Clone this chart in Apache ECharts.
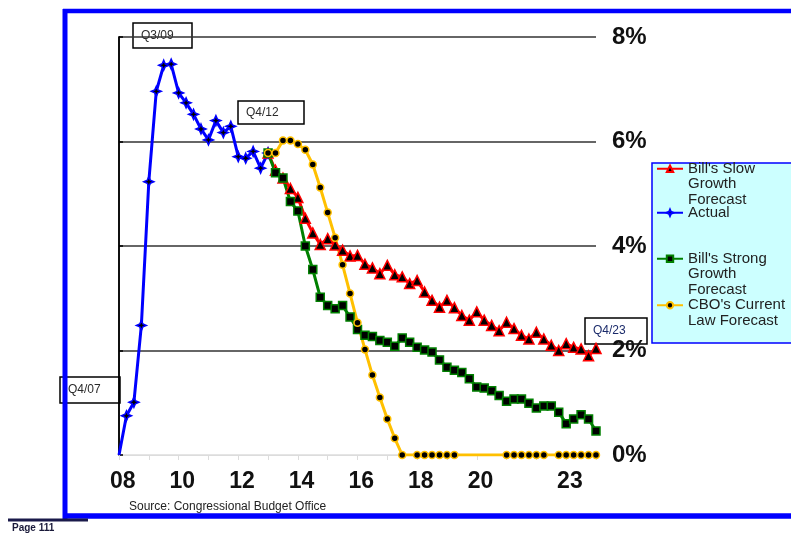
<!DOCTYPE html>
<html>
<head>
<meta charset="utf-8">
<script src="https://cdn.jsdelivr.net/npm/echarts@6/dist/echarts.min.js"></script>
<style>
  html, body { margin: 0; padding: 0; background: #fff; }
  #chart { width: 791px; height: 540px; }
</style>
</head>
<body>
<div id="chart"></div>
<script>
// Quarter slots are counted from Q4/2007 (slot 0) to Q4/2023 (slot 64).
const actualStart = 0;
const actual = [0.00, 0.75, 1.01, 2.48, 5.23, 6.96, 7.46, 7.48, 6.93, 6.74, 6.52,
                6.24, 6.03, 6.40, 6.17, 6.29, 5.71, 5.68, 5.81, 5.49, 5.78];
// The starting quarter of the actual line has no marker.
const actualPlainSlots = [0];

// All three forecasts start at Q4/2012 (slot 20).
const forecastStart = 20;
const slowGrowth = [5.78, 5.45, 5.30, 5.10, 4.93, 4.53, 4.25, 4.03, 4.14, 4.02,
                    3.92, 3.81, 3.82, 3.65, 3.58, 3.47, 3.63, 3.45, 3.41, 3.28,
                    3.34, 3.12, 2.96, 2.83, 2.96, 2.82, 2.67, 2.58, 2.74, 2.58,
                    2.48, 2.38, 2.54, 2.42, 2.29, 2.22, 2.35, 2.22, 2.10, 2.00,
                    2.13, 2.06, 2.03, 1.90, 2.04];
const strongGrowth = [5.78, 5.40, 5.30, 4.85, 4.67, 4.00, 3.55, 3.02, 2.86, 2.80,
                      2.86, 2.64, 2.40, 2.29, 2.27, 2.19, 2.16, 2.08, 2.24, 2.16,
                      2.06, 2.01, 1.97, 1.82, 1.68, 1.62, 1.58, 1.46, 1.30, 1.28,
                      1.23, 1.14, 1.03, 1.07, 1.07, 0.99, 0.90, 0.94, 0.94, 0.82,
                      0.60, 0.69, 0.77, 0.69, 0.46];
const cboForecast = [5.78, 5.78, 6.02, 6.02, 5.95, 5.84, 5.56, 5.12, 4.64, 4.16,
                     3.64, 3.09, 2.53, 2.02, 1.53, 1.10, 0.69, 0.32, 0.00, 0.00,
                     0.00, 0.00, 0.00, 0.00, 0.00, 0.00, 0.00, 0.00, 0.00, 0.00,
                     0.00, 0.00, 0.00, 0.00, 0.00, 0.00, 0.00, 0.00, 0.00, 0.00,
                     0.00, 0.00, 0.00, 0.00, 0.00];
// Quarters of the CBO line that carry no marker.
const cboPlainSlots = [39, 46, 47, 48, 49, 50, 51, 58];

// Year labels and the quarter slot each one sits over.
const yearLabels = ['08', '10', '12', '14', '16', '18', '20', '23'];
const yearLabelSlots = [0, 8, 16, 24, 32, 40, 48, 60];
const slotCount = 64;

const seriesNames = ["Bill's Slow Growth Forecast", 'Actual',
                     "Bill's Strong Growth Forecast", "CBO's Current Law Forecast"];
const yTicks = [0, 2, 4, 6, 8];

const FONT = '"Liberation Sans", Arial, sans-serif';
// four-pointed star used for the actual readings
const STAR4 = 'path://M0,-10 L3,-3 L10,0 L3,3 L0,10 L-3,3 L-10,0 L-3,-3 Z';

const slotLabels = new Array(slotCount).fill('');
yearLabelSlots.forEach((s, i) => { slotLabels[s] = yearLabels[i]; });

function toPoints(start, values, plain) {
  return values.map((v, i) => {
    const slot = start + i;
    if (plain && plain.indexOf(slot) >= 0) {
      return { value: [slot, v], symbolSize: 0 };
    }
    return [slot, v];
  });
}

function lineSeries(name, start, values, color, symbol, size, plain) {
  return {
    name: name,
    type: 'line',
    xAxisIndex: 0,
    yAxisIndex: 0,
    data: toPoints(start, values, plain),
    symbol: symbol,
    symbolSize: size,
    showAllSymbol: true,
    lineStyle: { color: color, width: 3 },
    itemStyle: { color: '#000', borderColor: color, borderWidth: 1.5 },
    emphasis: { disabled: true },
    z: 3
  };
}

function legendEntry(name, text, top) {
  return {
    data: [name],
    left: 656,
    top: top,
    padding: 0,
    itemWidth: 26,
    itemHeight: 8,
    selectedMode: false,
    formatter: () => text,
    textStyle: { fontFamily: FONT, fontSize: 15, lineHeight: 15.5, color: '#222' }
  };
}

function noteBox(x, y, w, h, label, fill, color) {
  return {
    type: 'group',
    z: 20,
    children: [
      { type: 'rect', shape: { x: x, y: y, width: w, height: h },
        style: { fill: fill, stroke: '#000', lineWidth: 1.5 } },
      { type: 'text', x: x + 8, y: y + h / 2,
        style: { text: label, fontFamily: FONT, fontSize: 12, fill: color,
                 verticalAlign: 'middle' } }
    ]
  };
}

const chart = echarts.init(document.getElementById('chart'), null, { renderer: 'canvas' });

chart.setOption({
  animation: false,
  backgroundColor: '#fff',
  grid: { left: 119, right: 195, top: 37, bottom: 85, containLabel: false },
  title: [
    { text: 'Source: Congressional Budget Office', left: 129, top: 501, padding: 0,
      textStyle: { fontFamily: FONT, fontSize: 12, fontWeight: 'normal', color: '#222' } },
    { text: 'Page 111', left: 12, top: 523, padding: 0,
      textStyle: { fontFamily: FONT, fontSize: 10, fontWeight: 'bold', color: '#1a1a3a' } }
  ],
  xAxis: [
    {
      type: 'value', min: 0, max: slotCount, interval: 4,
      axisLine: { show: true, lineStyle: { color: '#dcdcdc', width: 1 } },
      axisTick: { show: true, length: 5, lineStyle: { color: '#dcdcdc' } },
      axisLabel: { show: false },
      splitLine: { show: false }
    },
    {
      type: 'category', position: 'bottom', data: slotLabels, boundaryGap: true,
      axisLine: { show: false }, axisTick: { show: false }, splitLine: { show: false },
      axisLabel: { interval: 0, fontFamily: FONT, fontSize: 23, fontWeight: 'bold',
                   color: '#111', margin: 15 }
    }
  ],
  yAxis: [
    {
      type: 'value', position: 'right', min: yTicks[0], max: yTicks[yTicks.length - 1], interval: 2,
      axisLine: { show: true, lineStyle: { color: '#000', width: 1.5 } },
      axisTick: { show: true, length: 4, lineStyle: { color: '#000', width: 1.5 } },
      splitLine: { show: true, lineStyle: { color: ['#dcdcdc', '#333', '#333', '#333', '#333'], width: 1.5 } },
      axisLabel: { formatter: '{value}%', fontFamily: FONT, fontSize: 24, fontWeight: 'bold',
                   color: '#111', margin: 16 }
    },
    {
      type: 'value', position: 'left', min: 0, max: 8, interval: 2,
      axisLine: { show: true, lineStyle: { color: '#000', width: 1.5 } },
      axisTick: { show: false }, axisLabel: { show: false }, splitLine: { show: false }
    }
  ],
  legend: [
    legendEntry(seriesNames[0], "\n\nBill's Slow\nGrowth\nForecast", 130),
    legendEntry(seriesNames[1], 'Actual', 205),
    legendEntry(seriesNames[2], "\n\nBill's Strong\nGrowth\nForecast", 220),
    legendEntry(seriesNames[3], "\nCBO's Current\nLaw Forecast", 282)
  ],
  graphic: [
    // page frame
    { type: 'line', z: 1, shape: { x1: 63, y1: 11, x2: 791, y2: 11 },
      style: { stroke: '#0000ff', lineWidth: 4.5 } },
    { type: 'line', z: 1, shape: { x1: 65, y1: 9, x2: 65, y2: 519 },
      style: { stroke: '#0000ff', lineWidth: 5 } },
    { type: 'line', z: 1, shape: { x1: 63, y1: 516, x2: 791, y2: 516 },
      style: { stroke: '#0000ff', lineWidth: 5.5 } },
    { type: 'line', z: 1, shape: { x1: 8, y1: 520, x2: 88, y2: 520 },
      style: { stroke: '#1a1a4a', lineWidth: 3 } },
    // legend panel
    { type: 'rect', z: 1, shape: { x: 652, y: 163, width: 150, height: 180 },
      style: { fill: '#ccffff', stroke: '#0000ff', lineWidth: 1.5 } },
    // quarter call-outs
    noteBox(133, 23, 59, 25, 'Q3/09', '#fff', '#2a2a2a'),
    noteBox(238, 101, 66, 23, 'Q4/12', '#fff', '#2a2a2a'),
    noteBox(60, 377, 60, 26, 'Q4/07', '#fff', '#2a2a2a'),
    noteBox(585, 318, 62, 26, 'Q4/23', 'rgba(255,255,255,0)', '#1a2a6a')
  ],
  series: [
    lineSeries(seriesNames[0], forecastStart, slowGrowth, '#ff0000', 'triangle', 10),
    lineSeries(seriesNames[1], actualStart, actual, '#0000ff', STAR4, 10, actualPlainSlots),
    lineSeries(seriesNames[2], forecastStart, strongGrowth, '#008000', 'rect', 8),
    lineSeries(seriesNames[3], forecastStart, cboForecast, '#ffc000', 'circle', 7, cboPlainSlots)
  ]
});
</script>
</body>
</html>
